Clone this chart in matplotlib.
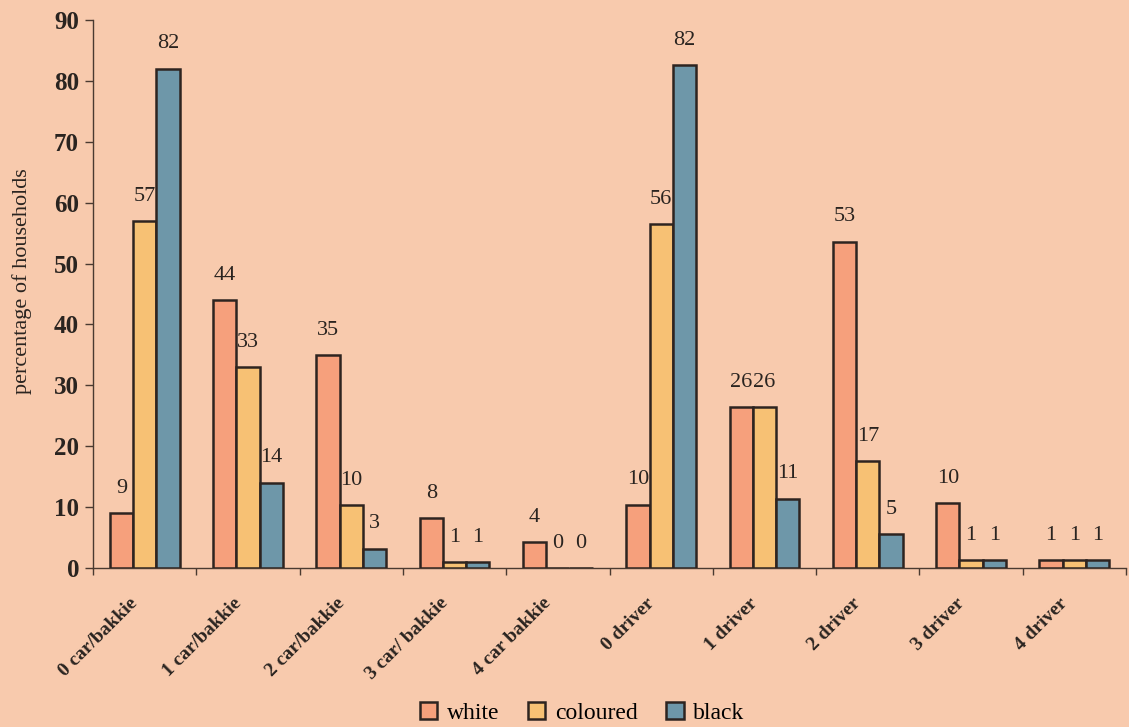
import matplotlib
matplotlib.use("Agg")
import matplotlib.pyplot as plt
import numpy as np
from matplotlib.patches import Patch

categories = ["0 car/bakkie", "1 car/bakkie", "2 car/bakkie", "3 car/ bakkie", "4 car bakkie",
              "0 driver", "1 driver", "2 driver", "3 driver", "4 driver"]
series_names = ["white", "coloured", "black"]
white = [9, 44, 35, 8.2, 4.3, 10.4, 26.4, 53.6, 10.6, 1.3]
coloured = [57, 33, 10.3, 1.0, 0, 56.5, 26.4, 17.5, 1.3, 1.3]
black = [82, 14, 3.2, 1.0, 0, 82.6, 11.4, 5.6, 1.3, 1.3]
white_labels = [9, 44, 35, 8, 4, 10, 26, 53, 10, 1]
coloured_labels = [57, 33, 10, 1, 0, 56, 26, 17, 1, 1]
black_labels = [82, 14, 3, 1, 0, 82, 11, 5, 1, 1]
yticks = [0, 10, 20, 30, 40, 50, 60, 70, 80, 90]

bg = "#F8CAAD"
colors = ["#F6A07C", "#F7C174", "#6E97A9"]
edge = "#2E2420"
txt = "#2a2420"

plt.rcParams["font.family"] = ["Liberation Serif", "DejaVu Serif"]

fig = plt.figure(figsize=(11.29, 7.27), dpi=100, facecolor=bg)
ax = fig.add_axes([93/1129, 1-568/727, (1126-93)/1129, (568-20)/727])
ax.set_facecolor(bg)

x = np.arange(len(categories))
w = 0.225
data = [white, coloured, black]
labels = [white_labels, coloured_labels, black_labels]
for i, (vals, labs) in enumerate(zip(data, labels)):
    pos = x + (i - 1) * w
    ax.bar(pos, vals, width=w, color=colors[i], edgecolor=edge, linewidth=1.8, zorder=3)
    for px, v, lab in zip(pos, vals, labs):
        ax.annotate(str(lab), (px, v), xytext=(0, 11), textcoords="offset points",
                    ha="center", va="bottom", fontsize=16, color=txt)

ax.set_xlim(-0.5, len(categories) - 0.5)
ax.set_ylim(0, 90)
ax.set_yticks(yticks)
ax.set_yticklabels([str(t) for t in yticks], fontsize=18, fontweight="bold", color=txt)
ax.set_xticks(x - 0.15)
ax.set_xticklabels(categories, rotation=45, ha="right", rotation_mode="anchor",
                   fontsize=14, fontweight="bold", color=txt)
ax.tick_params(axis="x", which="major", length=0, pad=19)
ax.set_xticks(np.arange(len(categories) + 1) - 0.5, minor=True)
ax.tick_params(axis="x", which="minor", length=5, width=1, color="#4a3a30", direction="out")
ax.tick_params(axis="y", length=6, width=1, color="#4a3a30", direction="out", pad=4)

for s in ["top", "right"]:
    ax.spines[s].set_visible(False)
for s in ["left", "bottom"]:
    ax.spines[s].set_color("#4a3a30")
    ax.spines[s].set_linewidth(1)

ax.set_ylabel("percentage of households", fontsize=16, color=txt)
ax.yaxis.set_label_coords(-0.059, 0.524)

handles = [Patch(facecolor=colors[i], edgecolor=edge, linewidth=1.8, label=series_names[i]) for i in range(3)]
fig.legend(handles=handles, loc="center", bbox_to_anchor=(582/1129, 1-713/727), ncol=3,
           frameon=False, fontsize=17, handlelength=0.75, handleheight=0.75,
           handletextpad=0.4, columnspacing=1.2)

fig.savefig("out.png", dpi=100, facecolor=bg)
